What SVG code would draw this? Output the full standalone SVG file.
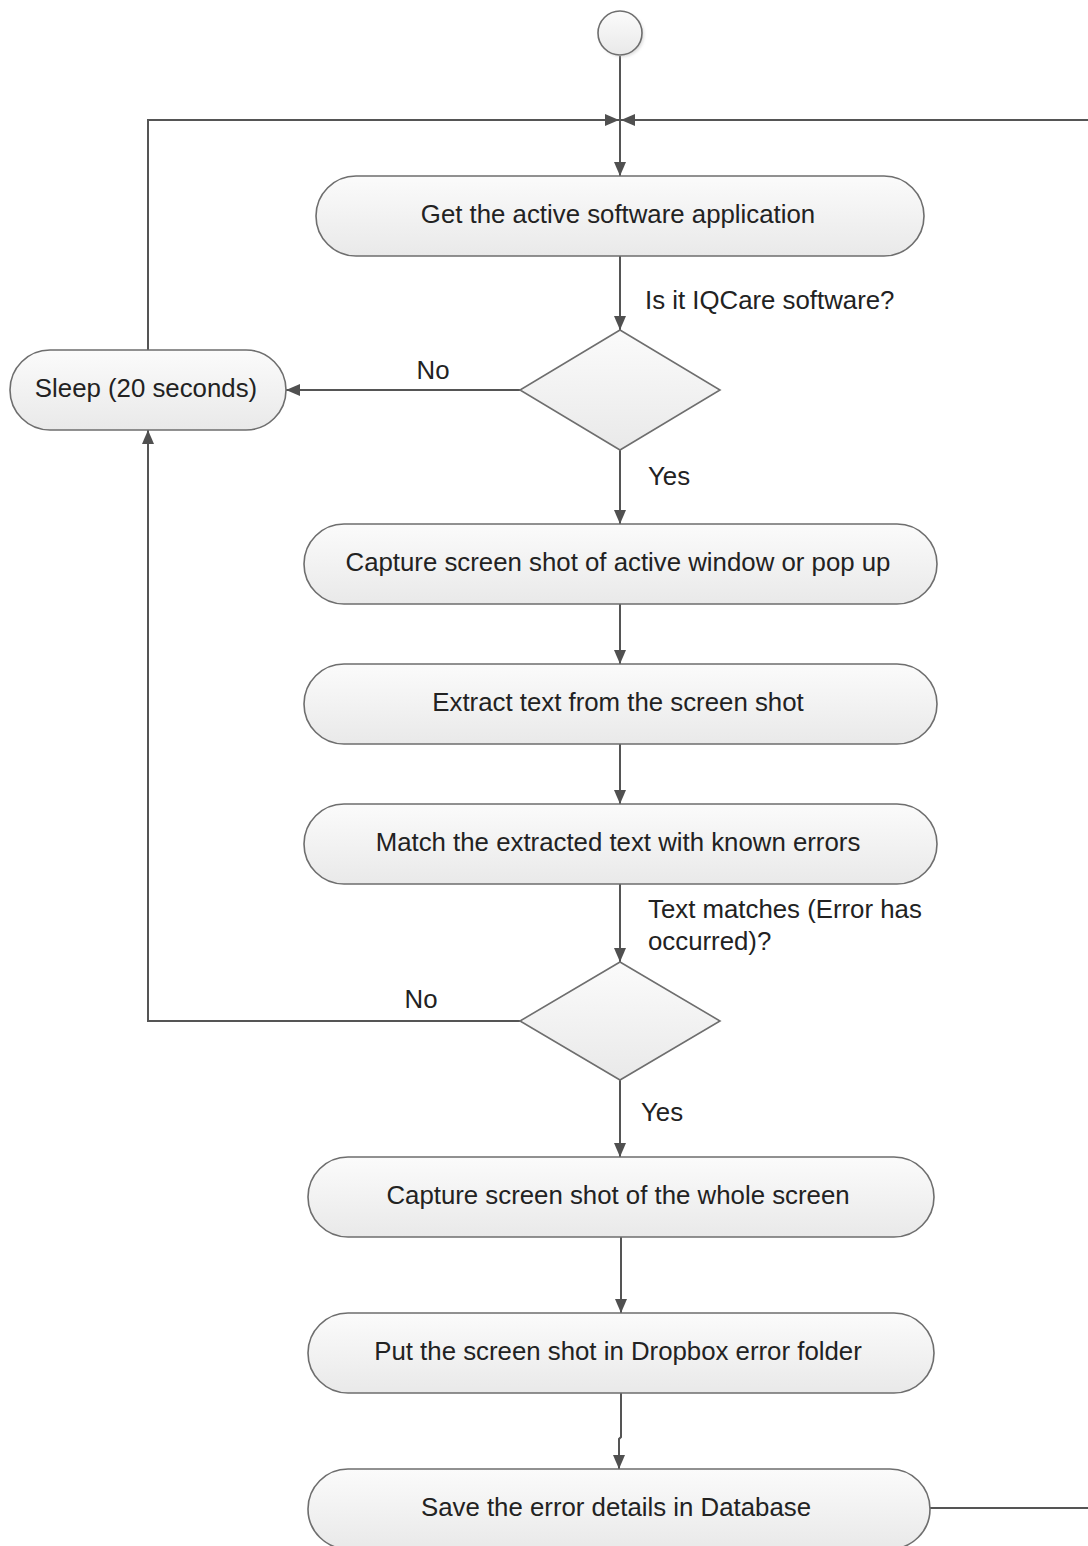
<svg xmlns="http://www.w3.org/2000/svg" width="1088" height="1546" viewBox="0 0 1088 1546">
  <style>
    .shape { fill: url(#fillGrad); stroke: #6e6e6e; stroke-width: 1.6; }
    .label { font-family: "Liberation Sans", Arial, sans-serif; font-size: 25.8px; fill: #222; }
    .mid { text-anchor: middle; }
    .edge { fill: none; stroke: #555; stroke-width: 2; }
  </style>
  <defs>
    <linearGradient id="fillGrad" x1="0" y1="0" x2="0" y2="1">
      <stop offset="0" stop-color="#fbfbfb"/>
      <stop offset="1" stop-color="#e9e9e9"/>
    </linearGradient>
    <marker id="arrow" viewBox="0 0 14 12" refX="14" refY="6" markerWidth="14" markerHeight="12" markerUnits="userSpaceOnUse" orient="auto">
      <path d="M0,0 L14,6 L0,12 Z" fill="#505050"/>
    </marker>
    <filter id="softShadow" x="-30%" y="-30%" width="160%" height="160%">
      <feGaussianBlur stdDeviation="1.5"/>
    </filter>
  </defs>

  <rect width="1088" height="1546" fill="#ffffff"/>

  <!-- connectors -->
  <g id="connectors">
    <path class="edge" d="M620,56 L620,176" marker-end="url(#arrow)"/>
    <path class="edge" d="M148,350 L148,120 L619,120" marker-end="url(#arrow)"/>
    <path class="edge" d="M930,1508 L1096,1508 L1096,120 L621,120" marker-end="url(#arrow)"/>
    <path class="edge" d="M620,256 L620,330" marker-end="url(#arrow)"/>
    <path class="edge" d="M520,390 L286,390" marker-end="url(#arrow)"/>
    <path class="edge" d="M620,450 L620,524" marker-end="url(#arrow)"/>
    <path class="edge" d="M620,604 L620,664" marker-end="url(#arrow)"/>
    <path class="edge" d="M620,744 L620,804" marker-end="url(#arrow)"/>
    <path class="edge" d="M620,884 L620,962" marker-end="url(#arrow)"/>
    <path class="edge" d="M520,1021 L148,1021 L148,430" marker-end="url(#arrow)"/>
    <path class="edge" d="M620,1080 L620,1157" marker-end="url(#arrow)"/>
    <path class="edge" d="M621,1237 L621,1313" marker-end="url(#arrow)"/>
    <path class="edge" d="M621,1393 L621,1437 L619,1439 L619,1469" marker-end="url(#arrow)"/>

    <text class="label" x="645" y="309">Is it IQCare software?</text>
    <text class="label mid" x="433" y="379">No</text>
    <text class="label" x="648" y="485">Yes</text>
    <text class="label" x="648" y="918">Text matches (Error has</text>
    <text class="label" x="648" y="950">occurred)?</text>
    <text class="label mid" x="421" y="1008">No</text>
    <text class="label" x="641" y="1121">Yes</text>
  </g>

  <!-- start -->
  <g id="start">
    <circle cx="622" cy="35" r="22" fill="#bbb" opacity="0.5" filter="url(#softShadow)"/>
    <circle class="shape" cx="620" cy="33" r="22"/>
  </g>

  <g id="get-active-app">
    <rect class="shape" x="316" y="176" width="608" height="80" rx="40" ry="40"/>
    <text class="label mid" x="618" y="223">Get the active software application</text>
  </g>

  <g id="is-iqcare">
    <polygon class="shape" points="620,330 720,390 620,450 520,390"/>
  </g>

  <g id="sleep">
    <rect class="shape" x="10" y="350" width="276" height="80" rx="40" ry="40"/>
    <text class="label mid" x="146" y="397">Sleep (20 seconds)</text>
  </g>

  <g id="capture-window">
    <rect class="shape" x="304" y="524" width="633" height="80" rx="40" ry="40"/>
    <text class="label mid" x="618" y="571">Capture screen shot of active window or pop up</text>
  </g>

  <g id="extract-text">
    <rect class="shape" x="304" y="664" width="633" height="80" rx="40" ry="40"/>
    <text class="label mid" x="618" y="711">Extract text from the screen shot</text>
  </g>

  <g id="match-errors">
    <rect class="shape" x="304" y="804" width="633" height="80" rx="40" ry="40"/>
    <text class="label mid" x="618" y="851">Match the extracted text with known errors</text>
  </g>

  <g id="text-matches">
    <polygon class="shape" points="620,962 720,1021 620,1080 520,1021"/>
  </g>

  <g id="capture-screen">
    <rect class="shape" x="308" y="1157" width="626" height="80" rx="40" ry="40"/>
    <text class="label mid" x="618" y="1204">Capture screen shot of the whole screen</text>
  </g>

  <g id="put-dropbox">
    <rect class="shape" x="308" y="1313" width="626" height="80" rx="40" ry="40"/>
    <text class="label mid" x="618" y="1360">Put the screen shot in Dropbox error folder</text>
  </g>

  <g id="save-database">
    <rect class="shape" x="308" y="1469" width="622" height="80" rx="40" ry="40"/>
    <text class="label mid" x="616" y="1516">Save the error details in Database</text>
  </g>
</svg>
